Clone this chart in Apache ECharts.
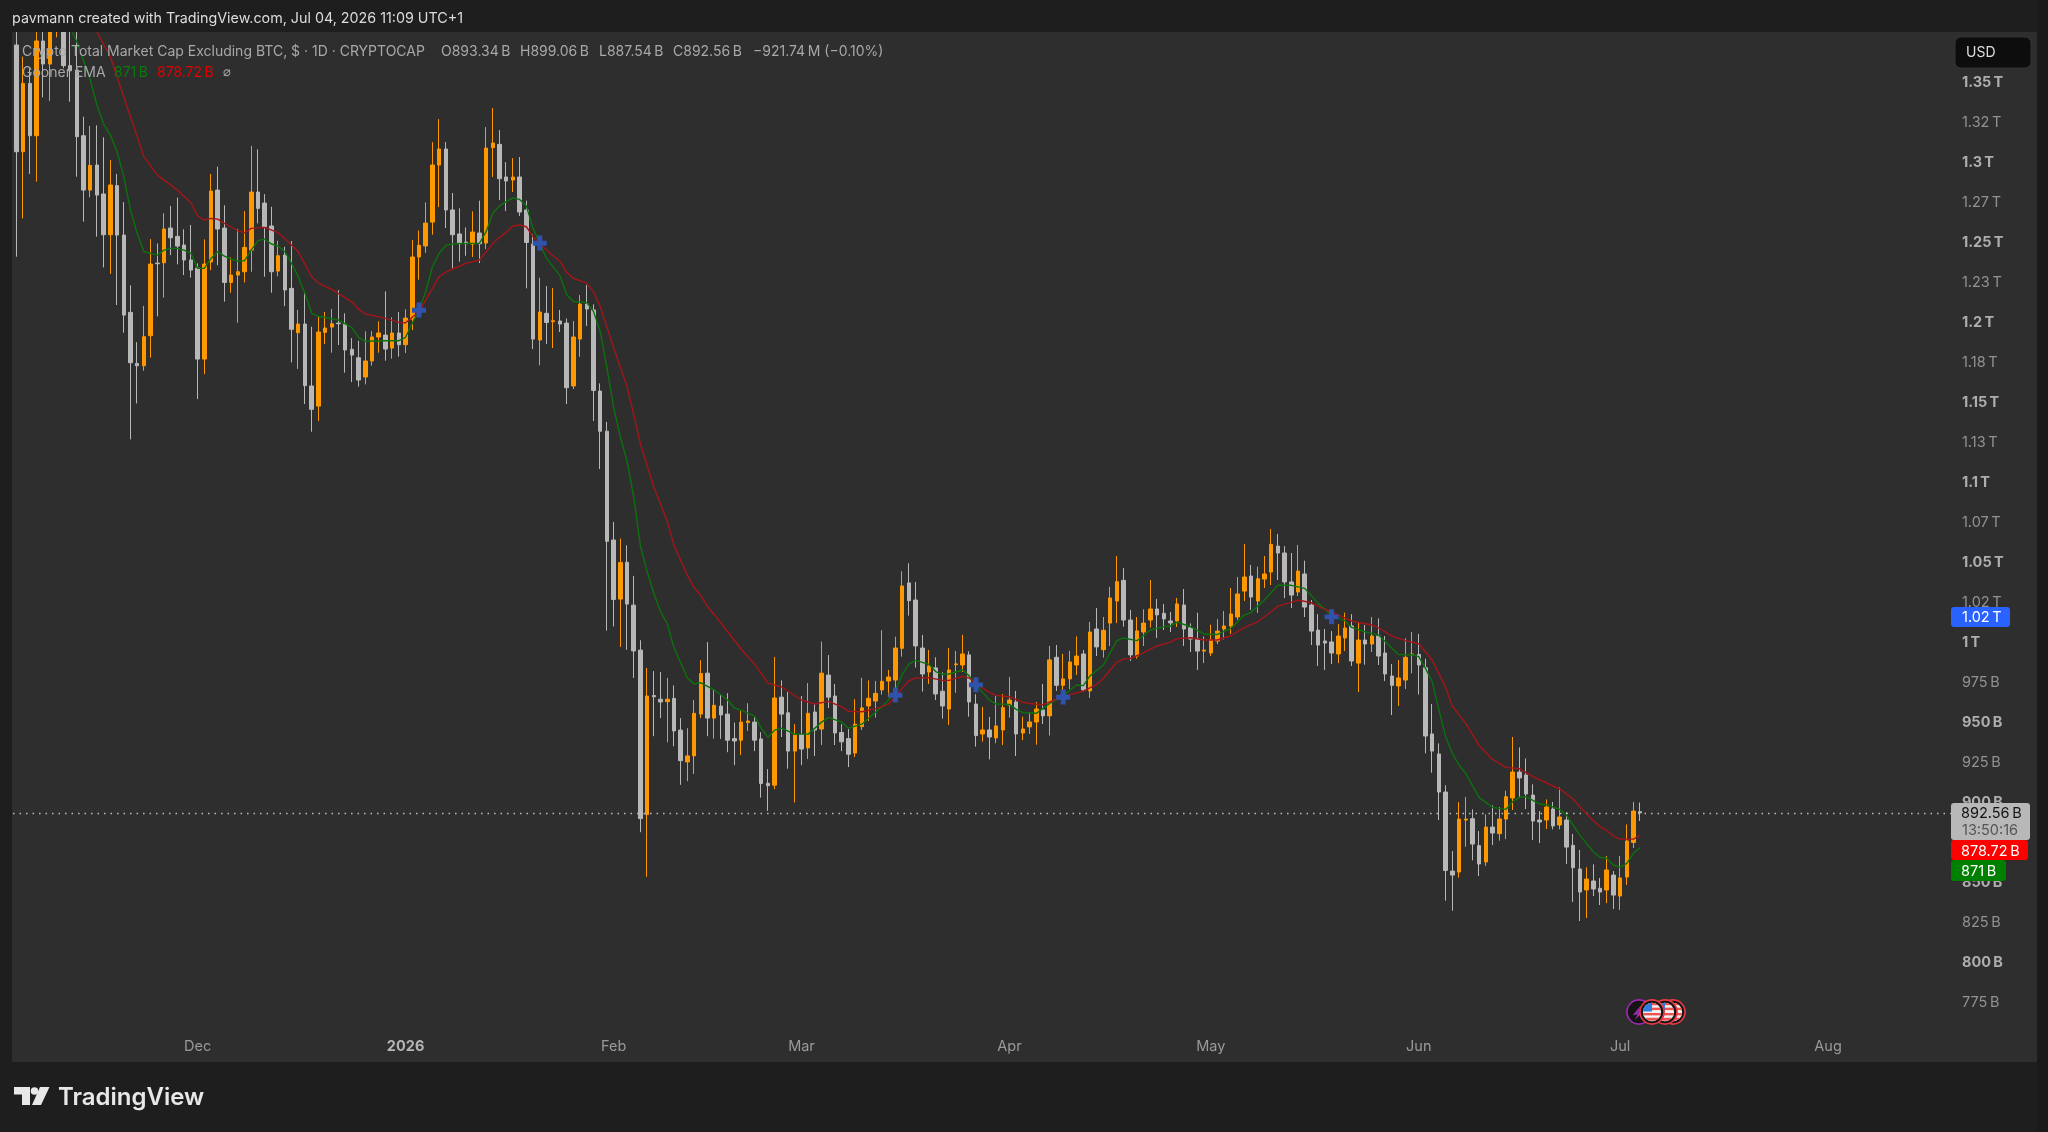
<!DOCTYPE html>
<html><head><meta charset="utf-8">
<style>html,body{margin:0;padding:0;background:#1e1e1e}#c{width:2048px;height:1132px}</style>
<script src="https://cdn.jsdelivr.net/npm/echarts@6/dist/echarts.min.js"></script>
</head><body><div id="c"></div>
<script>
const bodyTop = [
1372.5,1348.5,1348.5,1375,1375,1385,1400,1395,1359.6,1356.8,
1315.8,1297.3,1297.5,1279.4,1285,1284.6,1253.7,1205.4,1173.5,1190.2,
1235.6,1236.2,1257.5,1258.1,1252.9,1247.5,1238.1,1233.1,1235.6,1281.2,
1281.8,1258.1,1228.7,1230.8,1246,1280.6,1280.6,1273.7,1259.4,1240.8,
1241.2,1220.4,1198.1,1198.1,1159.4,1193.1,1195.6,1198.3,1198.7,1198.1,
1182.3,1177,1175,1190,1192.5,1191.2,1192.5,1192.5,1201.8,1240,
1247.3,1261.2,1297.5,1307.5,1307.5,1269.4,1254.4,1249.3,1255.6,1255,
1308.1,1311.2,1310.4,1290,1290,1290,1269.4,1248.1,1205.6,1204.8,
1200.2,1200,1198.7,1190,1210.6,1210.6,1206.9,1156.2,1131.1,1063.1,
1049,1049.2,1022.4,994.3,965.6,965.9,963.6,963.6,964.1,944.3,
928.2,954.8,979.7,979.9,959.8,959.3,954.3,939,949.3,950,
949.3,938.8,911.1,964.4,964.9,955.1,941.3,941.5,954.8,955.6,
979.9,978.7,965.6,942.8,939,948,958.2,964.2,967.3,974.8,
977.5,995.6,1034.4,1036.3,1025.6,995.6,984.4,983.2,968.6,981.9,
985.7,991.9,991.3,960.6,944.4,944.4,946.9,958.4,963.1,961.9,
945,949.4,957.5,956.9,988.2,989.8,976.3,986.9,990.6,991.9,
1005.6,1007.5,1006.7,1026.9,1037.1,1037.9,1013.1,1006.3,1011.2,1020,
1020,1017.3,1012.5,1023.2,1022.5,1008.3,1001.2,994.3,1000.6,1006.2,
1009.4,1016.9,1029.4,1040,1040.6,1038.9,1041.9,1060.4,1059.3,1055,
1036.9,1043.7,1041.9,1022.5,1006.8,1000,999.4,1003.1,1008.1,1009.4,
1000.6,1000.6,1003.1,1003.1,992.5,978.1,976.9,989.8,991.9,991.6,
983.3,941.9,929.4,905.6,856.2,888.7,888.7,888.9,872.1,883.7,
883.7,888.7,902.7,918.1,918.1,916.2,903.7,888.1,896.2,895,
890,888.1,872.3,857.5,851.2,850,845.4,856.9,853.7,851.9,
875,893.7,893.34
];
const bodyBottom = [
1305.8,1305.8,1315.8,1315.8,1360.6,1360.6,1390,1359.6,1356.4,1315.2,
1281.8,1281.8,1278.7,1253.9,1253.9,1253.7,1203.7,1173.9,1172,1172,
1190.8,1235.8,1236.4,1252,1246.8,1238.1,1231.8,1176.2,1176.2,1236.9,
1257.5,1224.1,1224.1,1228.7,1230.8,1244.3,1270.4,1258.9,1230.8,1231.2,
1219.4,1194.8,1192.7,1159.6,1144.8,1146.8,1192.9,1196.2,1198.3,1181.9,
1178.7,1163.1,1165,1175,1190,1182.5,1183.1,1185.2,1185.2,1201.2,
1240,1246.9,1261.8,1297.5,1269.4,1253.9,1248.3,1248.3,1248.1,1248.3,
1248.7,1308.3,1288.9,1287.5,1288.1,1268.1,1249.1,1188.7,1188.1,1199.1,
1199.6,1198.1,1158.3,1159.4,1188.7,1207.5,1156.6,1131.1,1062.3,1025.9,
1026.2,1023.1,993.8,889,891.5,965.1,961.9,962.1,943.8,925.2,
924.4,928.2,954.3,951.8,951.8,953.8,938,937.5,938,949,
938,910.9,909.6,909.9,954.3,931.2,931.2,932.5,933.2,944.3,
945,964.9,942.5,937,929.2,930,946.5,959.4,962.5,969.4,
975,975.6,995.4,1025.2,996.9,979.4,980.6,966.9,959.4,957.5,
985.2,985,961.9,940.9,941.9,940,939.4,944.4,960,941.9,
942.5,946.3,949.4,953.2,953.2,972.3,972.3,976.3,985,969.4,
968.8,996.3,994.6,1011.2,1025,1013.1,991.3,990.6,1005.6,1013.1,
1016.3,1013.8,1011.3,1012.5,1007.5,1001.2,993.7,993.7,992.5,1000,
1007.5,1009.4,1015,1031.2,1027.5,1025,1038.7,1043.1,1055,1036.9,
1028.7,1030.6,1021.2,1006.2,997.5,998.7,992.5,991.9,1001.9,987.5,
986.2,998.1,998.1,990.6,979.4,972.3,971.9,975.6,991.4,985,
940.6,931.2,905.6,856.6,853.7,855.6,888.1,873.1,860.6,861.9,
880,879.6,888.7,901.9,914.4,904.4,887.5,886.9,888.1,884.4,
885,871.2,858.3,843.1,844.4,845,843.1,844.4,841.2,840.6,
852.5,874.1,892.56
];
const wickHigh = [
1395,1365.2,1357.9,1395,1395,1400,1410,1400,1400,1390,
1327.7,1321.9,1322.3,1314.8,1300.6,1291.9,1274.3,1222.3,1186.8,1209.4,
1251.2,1248.5,1267.3,1271.9,1277.1,1257.3,1260,1236,1251,1291.9,
1296.4,1272.3,1239.8,1257.5,1268.7,1309.4,1307.3,1279.3,1271.4,1250.2,
1246.4,1250,1206.9,1218.3,1196.4,1203.1,1205.6,1207.5,1219.3,1204.8,
1189.3,1187.7,1193.5,1193.7,1199.8,1218.5,1202.3,1205.6,1207.3,1250.6,
1256.6,1274.1,1311.8,1326.2,1311.8,1280,1270.4,1258.5,1268.5,1275.2,
1321.2,1333.1,1319.3,1299.3,1301.8,1302.5,1275.2,1254.4,1227,1221.8,
1220.6,1206.9,1201.6,1200,1216.2,1222.5,1210.4,1161,1136.9,1074.4,
1064,1059.8,1040.7,1000.5,983.2,981.2,980.7,976.9,972.2,951.8,
945.5,963.1,988,999.3,969.4,966.9,967.4,949,956.3,961.1,
952.8,943,919.9,990,975.4,968.1,948,965.6,973.7,960.6,
999.6,991.2,973.2,948,945,963.6,977,975.4,975,1006.7,
981.9,1002.7,1043.6,1048.6,1036.9,1003.8,994.4,989.8,980.4,995.6,
993.8,1003.8,993.6,966.7,958.8,952.5,965.6,966.9,977.5,968.8,
952.7,955.4,961.9,973.2,996.9,997.5,991.9,993.8,1002.9,994.4,
1011.9,1020.6,1015,1033.8,1053.2,1045.6,1019.4,1015,1019.8,1038.1,
1026.3,1023.2,1018.2,1026.9,1032.5,1011,1017.7,1002.9,1010.2,1013.7,
1018.7,1033.1,1040,1060.6,1047.5,1046.4,1053.1,1070,1066.9,1059.3,
1055,1060,1050.2,1025.6,1016.8,1007.5,1006.2,1010.6,1017.7,1016.8,
1011.9,1010,1015,1014.1,1003.1,985.6,988.1,1001.8,1005.6,1004.4,
988.9,960.6,936,909.8,868.7,899.3,902.5,894.8,881.2,891.6,
897.3,896.2,906.4,940,933.5,926.6,910.4,893.7,901,899.4,
908.5,893.1,879.4,869.4,858.5,860.4,851.9,865.6,856.2,865.6,
885.4,899.4,899.06
];
const wickLow = [
1240.2,1264.1,1291.9,1287.1,1339.8,1337.5,1377.3,1358,1337.1,1290.2,
1262.1,1277.3,1252.7,1233.5,1229.4,1210,1192.7,1126,1148.5,1168.9,
1177.1,1202.9,1214.6,1241.2,1235.4,1228.7,1227.1,1151.2,1166.8,1231.8,
1234.9,1212.1,1217.7,1198.9,1224.1,1230.8,1261,1227.7,1217.7,1227.9,
1209.3,1174.1,1170,1148.1,1130.8,1137.5,1185.6,1180.2,1185,1167.7,
1161.8,1158.9,1160.4,1172.1,1180.2,1175.2,1176.4,1177.7,1180,1194.3,
1225.8,1242.7,1253.9,1271.2,1258.1,1232.5,1237.1,1240.8,1240,1236.2,
1245,1290,1275.6,1268.7,1280.6,1265.6,1220.4,1182.5,1172.3,1185.6,
1183.1,1193.1,1148.1,1157.5,1177.7,1196.9,1137.5,1107.5,1006.5,1009.1,
996.3,994.5,976.9,880.5,852.6,940.5,951.8,936.7,934.2,910.1,
912.4,916.9,951.8,940.5,939,938.8,930.5,922.4,928.7,943.8,
931.2,902.1,893.8,907.4,940,920.2,899.1,922.4,926.2,928.2,
935,958.1,935,931.2,921.2,927.5,944.4,950,952.1,966.5,
965.2,962.1,990.2,1015.9,983.4,968.4,973.2,963.1,951.5,947.5,
967.7,980.6,952.7,934,937.1,926,936.1,935,952.1,928.1,
938,941.9,935.2,948.1,940.9,968.8,963.1,970,978.8,968.1,
964.4,990.6,989.6,996.9,1011.2,1009,987.5,989,996.9,1008.4,
1001.9,1006.9,1005.6,1008.8,996.9,993.1,981.9,986.2,990.6,998.1,
1001,1004.4,1013.1,1025,1019.4,1017.5,1033.1,1035,1038.1,1026.8,
1020.6,1028.1,1015,997.5,984.4,981.9,985.6,986.2,993.7,984.4,
968.1,985.2,993.1,985,975,953.7,959.4,970,979.8,966.6,
929.8,917.7,888.1,837.7,831.4,852.1,871.4,862.9,853.1,859.4,
872.5,875.2,876.2,894.4,902.5,895,875.6,873.7,882.5,882.3,
882.3,860.6,836.9,825,826.9,840.6,835,836.2,832.5,831.9,
847.5,870.6,887.54
];
const candleColors = [
"G","O","G","O","G","O","O","G","G","G",
"G","O","G","G","O","G","G","G","G","O",
"O","G","O","G","G","G","G","G","O","O",
"G","G","O","O","O","O","G","G","G","O",
"G","G","O","G","G","O","O","O","G","G",
"G","G","O","O","O","G","O","G","O","O",
"O","O","O","O","G","G","G","G","O","G",
"O","O","G","G","O","G","G","G","O","G",
"O","G","G","O","O","G","G","G","G","G",
"O","G","G","G","O","G","G","O","G","G",
"O","O","O","G","O","G","G","G","O","O",
"G","G","G","O","G","G","O","G","O","G",
"O","G","G","G","G","O","O","O","O","O",
"O","O","O","G","G","G","O","G","G","O",
"O","O","G","G","O","G","O","O","O","G",
"O","O","O","G","O","G","O","O","O","G",
"O","G","O","O","O","G","G","O","O","O",
"G","G","G","O","G","G","G","O","O","O",
"O","O","O","O","G","O","O","O","G","G",
"G","O","G","G","G","G","G","O","O","G",
"O","G","O","G","G","G","O","O","O","G",
"G","G","G","G","G","O","O","G","G","O",
"G","O","O","O","G","G","G","G","O","G",
"O","G","G","G","O","G","G","O","G","O",
"O","O","G"
];
const emaSlow = [
[11,1396],[12,1380.6],[14,1365.2],[16,1340.2],[18,1315.2],[19,1302.7],[21,1291.2],[24,1281.8],[26,1273.9],[27,1265.8],
[28,1263.1],[29,1264.1],[30,1263.7],[31,1261],[33,1256.4],[34,1255.2],[35,1257.9],[37,1258.5],[39,1255.2],[40,1251.6],
[42,1243.3],[44,1227.7],[45,1223.7],[47,1219.8],[50,1212],[51,1207.3],[52,1204.4],[55,1201.6],[57,1199.1],[58,1198.9],
[60,1205.8],[62,1220.4],[63,1227.7],[64,1230.6],[65,1232.5],[67,1236],[69,1238.1],[70,1243.3],[71,1248.5],[72,1252.3],
[73,1255.4],[74,1259.4],[75,1260],[76,1258.9],[77,1252.7],[78,1248.1],[80,1240.6],[81,1237.5],[82,1230.4],[83,1226.7],
[85,1223.7],[86,1218.2],[87,1209],[89,1183.4],[91,1159],[92,1141.5],[93,1123],[95,1096.2],[97,1074.9],[98,1059.8],
[100,1041],[101,1033.4],[102,1028.4],[103,1021.6],[104,1016.6],[106,1005.8],[108,995],[110,985.7],[112,973.7],[114,971.4],
[117,963.1],[119,960.6],[121,962.3],[123,958.8],[124,956],[126,955.8],[128,957.6],[130,960.6],[131,965.2],[132,970.4],
[133,975],[134,976.9],[136,977.1],[138,975.4],[139,975.4],[141,977.9],[142,976.9],[143,973.4],[145,967.9],[146,966],
[148,965.2],[150,961.7],[151,960.9],[153,960.2],[155,963.6],[157,966.5],[159,968.6],[161,972.9],[162,976.7],[164,986.7],
[165,988.8],[166,989],[168,992.7],[170,996.9],[172,999.3],[173,1001.5],[175,1002],[177,1000.6],[179,1000.6],[181,1003.3],
[183,1008.5],[185,1012],[187,1018.3],[188,1021.8],[190,1024.1],[191,1025.6],[193,1023.9],[195,1019.8],[197,1016.2],[199,1012.5],
[202,1010],[203,1008.3],[205,1003.1],[207,1000.2],[209,998.3],[211,988.1],[213,971],[214,959.2],[216,948.5],[218,934.6],
[220,926],[222,921],[224,920.2],[226,915.2],[228,911.4],[230,907.5],[232,901.2],[233,896.4],[235,887.7],[236,884],
[237,881.6],[238,878.1],[239,876.2],[241,876.2],[242,878.72]
];
const emaFast = [
[8,1383.9],[9,1374.5],[10,1363],[11,1350.6],[12,1335],[13,1323.1],[14,1316.2],[15,1305.8],[16,1290.2],[17,1269.4],
[18,1254.8],[19,1243.3],[20,1242.3],[21,1241.2],[22,1244.3],[23,1245.4],[24,1245.4],[25,1244.3],[26,1242.3],[27,1232.9],
[28,1232.9],[29,1239.1],[30,1243.3],[31,1240.6],[32,1238.7],[33,1237.5],[34,1237.7],[35,1244.3],[36,1250.2],[37,1251.2],
[38,1248.1],[39,1246.9],[40,1243.3],[41,1236],[42,1227.7],[43,1217.3],[44,1204.8],[45,1203],[48,1200.6],[50,1195.8],
[51,1189.8],[52,1187.3],[55,1187.7],[57,1187.7],[58,1189.8],[59,1198.5],[60,1206.8],[61,1218.3],[62,1233.9],[63,1242.3],
[64,1247.3],[65,1248.3],[67,1248.5],[69,1248.5],[70,1255.8],[71,1267.3],[72,1271.9],[73,1274.6],[74,1276.9],[75,1276],
[76,1271.9],[77,1257.9],[78,1248.5],[79,1239.1],[81,1228.4],[82,1216.5],[83,1212.2],[85,1211.5],[86,1206],[87,1193.6],
[88,1171],[89,1146.3],[90,1127.6],[91,1112.5],[92,1089.9],[93,1059.3],[94,1043.5],[95,1029.7],[96,1018.4],[97,1010.8],
[98,995.8],[100,976.9],[101,973.2],[102,973.9],[104,969.4],[106,963.1],[107,958.1],[108,956.8],[110,953],[111,945.5],
[112,939.8],[113,944.3],[114,945.5],[116,941.8],[118,941.8],[120,949.3],[121,952.3],[123,949.3],[124,945.5],[126,948],
[127,951.7],[129,959],[130,963.2],[131,969.4],[132,978.8],[133,985.6],[134,987.9],[136,985.4],[137,980.9],[138,979.2],
[139,979.4],[141,981.9],[142,978.2],[143,972.5],[145,963.2],[146,960.6],[148,960.4],[149,957.3],[150,955.2],[152,954.8],
[154,961],[156,965.2],[157,969.4],[158,972.5],[159,972.1],[160,978.2],[162,985],[164,1000.2],[165,1001.9],[167,1000.2],
[169,1006.9],[171,1009],[172,1009.4],[173,1011.8],[175,1008.9],[177,1004.4],[179,1004.1],[181,1007.9],[183,1016.2],[184,1017.9],
[186,1025.6],[188,1034.8],[190,1034.8],[192,1032.9],[194,1023.5],[196,1016.2],[198,1012.7],[199,1008.5],[201,1005.8],[203,1003.7],
[205,995.4],[206,991.6],[208,991.4],[209,990.2],[210,982.9],[211,974.5],[212,957],[213,940.2],[214,929.8],[215,922.5],
[216,917.3],[218,902.1],[220,896],[222,894.8],[223,899.6],[224,902.3],[225,902.7],[227,898.1],[228,897.7],[230,894.8],
[231,891.2],[232,885],[233,878.7],[234,873.5],[235,868.3],[236,864.8],[237,864.2],[238,860],[239,858.7],[240,861],
[241,867.3],[242,871]
];
const crossSignals = [[60,1206.9],[78,1248.75],[131,966.25],[143,972.7],[156,965],[196,1015.2]];
const lastClose = 892.56;
const firstDay = [2025,10,4];   // 2025-11-04
const dayCount = 290;           // days on the time scale, including the empty right margin
const monthTicks = {"2025-12-01":"Dec","2026-01-01":"2026","2026-02-01":"Feb","2026-03-01":"Mar","2026-04-01":"Apr","2026-05-01":"May","2026-06-01":"Jun","2026-07-01":"Jul","2026-08-01":"Aug"};
const priceTicks = [1350,1325,1300,1275,1250,1225,1200,1175,1150,1125,1100,1075,1050,1025,1000,975,950,925,900,850,825,800,775];
const priceLabels = ["1.35 T","1.32 T","1.3 T","1.27 T","1.25 T","1.23 T","1.2 T","1.18 T","1.15 T","1.13 T","1.1 T","1.07 T","1.05 T","1.02 T","1 T","975 B","950 B","925 B","900 B","850 B","825 B","800 B","775 B"];
const boldPrices = [1350,1300,1250,1200,1150,1100,1050,1000,950,900,850,800];

const days = [];
for (let k=0;k<dayCount;k++){
  const d = new Date(Date.UTC(firstDay[0],firstDay[1],firstDay[2]+k));
  days.push(d.toISOString().slice(0,10));
}
const ohlc = bodyTop.map((t,i)=>{
  const b = bodyBottom[i];
  return candleColors[i]==="O" ? [b,t,wickLow[i],wickHigh[i]] : [t,b,wickLow[i],wickHigh[i]];
});
const FONT = "Inter, 'Noto Sans', sans-serif";
const FAMILY = "Inter";
const ORANGE="#ff9800", GRAY="#b8b8b8";
const flagSvg = ring => "data:image/svg+xml;utf8,"+encodeURIComponent(
`<svg xmlns="http://www.w3.org/2000/svg" width="54" height="54" viewBox="0 0 54 54"><defs><clipPath id="k"><circle cx="27" cy="27" r="19"/></clipPath></defs><circle cx="27" cy="27" r="25" fill="#141414" stroke="${ring}" stroke-width="3.5"/><g clip-path="url(#k)"><rect width="54" height="54" fill="#f4f4f4"/><rect y="8" width="54" height="5" fill="#ef5350"/><rect y="18" width="54" height="5" fill="#ef5350"/><rect y="29" width="54" height="5" fill="#ef5350"/><rect y="39" width="54" height="6" fill="#ef5350"/><rect x="6" y="6" width="21" height="20" fill="#2f7de1"/></g></svg>`);
const boltSvg = "data:image/svg+xml;utf8,"+encodeURIComponent(
`<svg xmlns="http://www.w3.org/2000/svg" width="54" height="54" viewBox="0 0 54 54"><circle cx="27" cy="27" r="25" fill="#141414" stroke="#9c27b0" stroke-width="3.5"/><path d="M30 14 L14 34 L24 32 L18 44 L36 26 L26 28 Z" fill="#9c27b0"/></svg>`);
const txt = (x,y,text,fill,size,weight,extra)=>({type:'text',x,y,z:100,silent:true,style:Object.assign({text,fill,font:`${weight||400} ${size}px ${FONT}`,textVerticalAlign:'middle',textAlign:'left'},extra||{})});
const box = (x,y,w,h,fill,r,stroke)=>({type:'rect',z:99,silent:true,shape:{x,y,width:w,height:h,r:r||0},style:{fill,stroke:stroke||null}});

const chart = echarts.init(document.getElementById('c'),null,{renderer:'canvas',width:2048,height:1132});
chart.setOption({
  animation:false,
  backgroundColor:'#1e1e1e',
  grid:{left:13.05,top:32,width:1945.9,height:999,containLabel:false},
  xAxis:{type:'category',data:days,boundaryGap:true,
    axisLine:{show:false},axisTick:{show:false},splitLine:{show:false},
    axisLabel:{margin:5.5,padding:[3,0,0,0],interval:(i,v)=>monthTicks[v]!==undefined,hideOverlap:false,
      formatter:v=>{const t=monthTicks[v];return t==="2026"?`{b|${t}}`:`{n|${t}}`;},
      rich:{b:{fontFamily:FAMILY,fontSize:14.5,fontWeight:700,color:'#b4b4b4'},n:{fontFamily:FAMILY,fontSize:14.5,fontWeight:400,color:'#9a9a9a'}}}},
  yAxis:{type:'value',position:'right',min:756.25,max:1380.625,
    axisLine:{show:false},axisTick:{show:false},splitLine:{show:false},
    axisLabel:{customValues:priceTicks,margin:3,align:'left',padding:[3,0,0,0],
      formatter:v=>{const i=priceTicks.indexOf(v);const s=(priceLabels[i]||'').replace(' ','\u2009');return boldPrices.includes(v)?`{b|${s}}`:`{n|${s}}`;},
      rich:{b:{fontFamily:FAMILY,fontSize:14.5,fontWeight:700,color:'#aeaeae'},n:{fontFamily:FAMILY,fontSize:14.5,fontWeight:400,color:'#929292'}}}},
  series:[
    {type:'candlestick',name:'Price',data:ohlc,barWidth:4,z:3,clip:true,
     itemStyle:{color:ORANGE,color0:GRAY,borderColor:ORANGE,borderColor0:GRAY,borderWidth:1,borderColorDoji:GRAY},
     markLine:{silent:true,symbol:'none',z:1,label:{show:false},
       lineStyle:{color:'#bdbdbd',type:[1.5,5],width:1.3},data:[{yAxis:lastClose}]}},
    {type:'line',name:'EMA fast',data:emaFast,showSymbol:false,z:4,clip:true,lineStyle:{color:'#0b720b',width:1.4}},
    {type:'line',name:'EMA slow',data:emaSlow,showSymbol:false,z:4,clip:true,lineStyle:{color:'#a31518',width:1.4}},
    {type:'scatter',name:'Signal',data:crossSignals,z:5,symbol:'path://M4.5,0H9.5V5H14V9.5H9.5V14H4.5V9.5H0V5H4.5Z',symbolSize:[14,15],itemStyle:{color:'#2f52ad',opacity:1}}
  ],
  graphic:{elements:[
    {type:'rect',z:-5,silent:true,shape:{x:12,y:32,width:2025,height:1030},style:{fill:'#2e2e2e'}},
    {type:'rect',z:-5,silent:true,shape:{x:2037,y:0,width:11,height:1132},style:{fill:'#1a1a1a'}},
    {type:'rect',z:50,silent:true,shape:{x:0,y:0,width:2037,height:32},style:{fill:'#1e1e1e'}},
    txt(12,18.5,'pavmann created with TradingView.com, Jul 04, 2026 11:09 UTC+1','#dcdcdc',14.3),
    txt(22,52,'Crypto Total Market Cap Excluding BTC, $ \u00b7 1D \u00b7 CRYPTOCAP','#a8a8a8',14),
    txt(441,52,'O893.34\u2009B','#a8a8a8',14),
    txt(520,52,'H899.06\u2009B','#a8a8a8',14),
    txt(599,52,'L887.54\u2009B','#a8a8a8',14),
    txt(673,52,'C892.56\u2009B','#a8a8a8',14),
    txt(753,52,'\u2212921.74\u2009M (\u22120.10%)','#a8a8a8',14),
    txt(22,72.5,'Gooner EMA','#a8a8a8',14),
    txt(114,72.5,'871\u2009B','#0a7a0a',14),
    txt(157,72.5,'878.72\u2009B','#e00000',14),
    txt(223,72.5,'\u2300','#a8a8a8',13),
    box(1955,37,76,31,'#0d0d0d',6,'#333333'),
    txt(1966,52.5,'USD','#dedede',14),
    box(1951,607,59,20,'#2962ff',3),
    txt(1962,617.5,'1.02\u2009T','#ffffff',14.5),
    box(1951,803,79,37,'#b8b8b8',3),
    txt(1961,814,'892.56\u2009B','#131313',14.5),
    txt(1962,831,'13:50:16','#555555',14.5),
    box(1951,840,77,20,'#ff0000',3),
    txt(1961,851.5,'878.72\u2009B','#ffffff',14.5),
    box(1951,860,55,21,'#008000',3),
    txt(1961,871.5,'871\u2009B','#ffffff',14.5),
    {type:'image',z:90,silent:true,style:{image:flagSvg('#e53946'),x:1660,y:999,width:26,height:26}},
    {type:'image',z:91,silent:true,style:{image:flagSvg('#e53946'),x:1652,y:999,width:26,height:26}},
    {type:'image',z:92,silent:true,style:{image:boltSvg,x:1626,y:999,width:26,height:26}},
    {type:'image',z:93,silent:true,style:{image:flagSvg('#e53946'),x:1639,y:999,width:26,height:26}},
    {type:'polygon',z:100,silent:true,shape:{points:[[14,1087],[30,1087],[30,1105],[22,1105],[22,1094.5],[14,1094.5]]},style:{fill:'#e8e8e8'}},
    {type:'polygon',z:100,silent:true,shape:{points:[[40,1087],[49.5,1087],[41,1105],[32,1105]]},style:{fill:'#e8e8e8'}},
    {type:'circle',z:100,silent:true,shape:{cx:34.5,cy:1091,r:3.8},style:{fill:'#e8e8e8'}},
    txt(58,1098,'TradingView','#e8e8e8',24,600)
  ]}
});
</script></body></html>
